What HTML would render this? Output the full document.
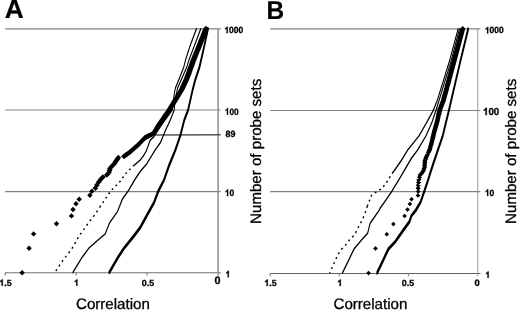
<!DOCTYPE html>
<html><head><meta charset="utf-8"><title>Correlation vs number of probe sets</title>
<style>
html,body{margin:0;padding:0;background:#fff;}
body{width:520px;height:311px;overflow:hidden;font-family:"Liberation Sans",sans-serif;}
svg{display:block;text-rendering:geometricPrecision;will-change:transform;transform:translateZ(0);font-family:"Liberation Sans",sans-serif;fill:#000;}
</style></head>
<body>
<svg width="520" height="311" viewBox="0 0 520 311">
<rect width="520" height="311" fill="#fff"/>
<line x1="5.1" y1="28.85" x2="220.79999999999998" y2="28.85" stroke="#808080" stroke-width="1.05"/>
<line x1="5.1" y1="109.95" x2="220.79999999999998" y2="109.95" stroke="#808080" stroke-width="1.05"/>
<line x1="5.1" y1="191.6" x2="220.79999999999998" y2="191.6" stroke="#808080" stroke-width="1.05"/>
<line x1="4.9" y1="272.8" x2="220.79999999999998" y2="272.8" stroke="#707070" stroke-width="1.1"/>
<line x1="218.1" y1="28.35" x2="218.1" y2="275.40000000000003" stroke="#8e8e8e" stroke-width="1.5"/>
<line x1="5.2" y1="272.8" x2="5.2" y2="275.5" stroke="#808080" stroke-width="1.1"/>
<line x1="76.1" y1="272.8" x2="76.1" y2="275.5" stroke="#808080" stroke-width="1.1"/>
<line x1="147.0" y1="272.8" x2="147.0" y2="275.5" stroke="#808080" stroke-width="1.1"/>
<line x1="270.1" y1="28.85" x2="480.40000000000003" y2="28.85" stroke="#808080" stroke-width="1.05"/>
<line x1="270.1" y1="110.5" x2="480.40000000000003" y2="110.5" stroke="#808080" stroke-width="1.05"/>
<line x1="270.1" y1="191.6" x2="480.40000000000003" y2="191.6" stroke="#808080" stroke-width="1.05"/>
<line x1="269.9" y1="273.45" x2="480.40000000000003" y2="273.45" stroke="#606060" stroke-width="1.1"/>
<line x1="477.75" y1="28.35" x2="477.75" y2="276.05" stroke="#9a9a9a" stroke-width="1.0"/>
<line x1="270.2" y1="273.45" x2="270.2" y2="276.15" stroke="#808080" stroke-width="1.1"/>
<line x1="339.3" y1="273.45" x2="339.3" y2="276.15" stroke="#808080" stroke-width="1.1"/>
<line x1="408.4" y1="273.45" x2="408.4" y2="276.15" stroke="#808080" stroke-width="1.1"/>
<line x1="155" y1="134.9" x2="220.6" y2="134.8" stroke="#555" stroke-width="1.5"/>
<path fill="#000" fill-rule="nonzero" d="M189.57 45.40L196.07 28.00L196.93 28.00L196.93 29.20L190.43 46.60L189.57 46.60zM185.07 59.40L189.57 45.40L190.43 45.40L190.43 46.60L185.93 60.60L185.07 60.60zM183.38 66.40L185.07 59.40L185.93 59.40L185.93 60.60L184.23 67.60L183.38 67.60zM179.07 77.40L183.38 66.40L184.23 66.40L184.23 67.60L179.93 78.60L179.07 78.60zM174.97 87.40L179.07 77.40L179.93 77.40L179.93 78.60L175.83 88.60L174.97 88.60zM173.47 95.40L174.97 87.40L175.83 87.40L175.83 88.60L174.33 96.60L173.47 96.60zM172.57 103.40L173.47 95.40L174.33 95.40L174.33 96.60L173.43 104.60L172.57 104.60zM171.88 109.40L172.57 103.40L173.43 103.40L173.43 104.60L172.73 110.60L171.88 110.60zM164.57 119.40L171.88 109.40L172.73 109.40L172.73 110.60L165.43 120.60L164.57 120.60zM157.57 129.40L164.57 119.40L165.43 119.40L165.43 120.60L158.43 130.60L157.57 130.60zM153.27 136.40L157.57 129.40L158.43 129.40L158.43 130.60L154.12 137.60L153.27 137.60zM149.77 139.50L153.27 136.40L154.12 136.40L154.12 137.60L150.62 140.70L149.77 140.70zM145.88 150.40L149.77 139.50L150.62 139.50L150.62 140.70L146.73 151.60L145.88 151.60zM142.88 155.40L145.88 150.40L146.73 150.40L146.73 151.60L143.73 156.60L142.88 156.60zM139.88 159.40L142.88 155.40L143.73 155.40L143.73 156.60L140.73 160.60L139.88 160.60zM134.02 164.40L139.88 159.40L140.73 159.40L140.73 160.60L134.87 165.60L134.02 165.60z"/>
<polyline points="134.4,165.0 132.8,166.4 125.2,174.0 120.5,181.0 110.3,191.4 103.3,202.0 100.6,206.0" fill="none" stroke="#000" stroke-width="1.4" stroke-dasharray="1.9 3.4"/>
<polyline points="100.6,206.0 95.4,213.9 87.8,223.9 80.4,234.1 77.2,239.3 72.0,248.6 62.7,260.6 54.7,272.6" fill="none" stroke="#000" stroke-width="1.4" stroke-dasharray="2 3.5"/>
<path fill="#000" fill-rule="nonzero" d="M193.88 45.40L200.38 28.00L201.23 28.00L201.23 29.20L194.73 46.60L193.88 46.60zM188.47 59.40L193.88 45.40L194.73 45.40L194.73 46.60L189.33 60.60L188.47 60.60zM186.38 66.40L188.47 59.40L189.33 59.40L189.33 60.60L187.23 67.60L186.38 67.60zM181.57 77.40L186.38 66.40L187.23 66.40L187.23 67.60L182.43 78.60L181.57 78.60zM177.17 87.40L181.57 77.40L182.43 77.40L182.43 78.60L178.03 88.60L177.17 88.60zM175.47 95.40L177.17 87.40L178.03 87.40L178.03 88.60L176.33 96.60L175.47 96.60zM174.38 103.40L175.47 95.40L176.33 95.40L176.33 96.60L175.23 104.60L174.38 104.60zM173.77 109.40L174.38 103.40L175.23 103.40L175.23 104.60L174.62 110.60L173.77 110.60zM169.88 119.40L173.77 109.40L174.62 109.40L174.62 110.60L170.73 120.60L169.88 120.60zM168.07 123.40L169.88 119.40L170.73 119.40L170.73 120.60L168.93 124.60L168.07 124.60zM164.77 130.40L168.07 123.40L168.93 123.40L168.93 124.60L165.62 131.60L164.77 131.60zM163.17 134.40L164.77 130.40L165.62 130.40L165.62 131.60L164.03 135.60L163.17 135.60zM159.97 142.00L163.17 134.40L164.03 134.40L164.03 135.60L160.83 143.20L159.97 143.20zM154.07 150.40L159.97 142.00L160.83 142.00L160.83 143.20L154.93 151.60L154.07 151.60zM151.07 155.40L154.07 150.40L154.93 150.40L154.93 151.60L151.93 156.60L151.07 156.60zM146.17 163.40L151.07 155.40L151.93 155.40L151.93 156.60L147.03 164.60L146.17 164.60zM139.88 170.80L146.17 163.40L147.03 163.40L147.03 164.60L140.73 172.00L139.88 172.00zM134.07 179.60L139.88 170.80L140.73 170.80L140.73 172.00L134.93 180.80L134.07 180.80zM128.07 189.90L134.07 179.60L134.93 179.60L134.93 180.80L128.93 191.10L128.07 191.10zM122.08 198.20L128.07 189.90L128.93 189.90L128.93 191.10L122.92 199.40L122.08 199.40zM117.08 210.90L122.08 198.20L122.92 198.20L122.92 199.40L117.92 212.10L117.08 212.10zM109.08 222.40L117.08 210.90L117.92 210.90L117.92 212.10L109.92 223.60L109.08 223.60zM104.78 233.40L109.08 222.40L109.92 222.40L109.92 223.60L105.62 234.60L104.78 234.60zM97.58 239.40L104.78 233.40L105.62 233.40L105.62 234.60L98.42 240.60L97.58 240.60zM88.58 247.40L97.58 239.40L98.42 239.40L98.42 240.60L89.42 248.60L88.58 248.60zM81.17 257.40L88.58 247.40L89.42 247.40L89.42 248.60L82.02 258.60L81.17 258.60zM72.38 272.00L81.17 257.40L82.02 257.40L82.02 258.60L73.22 273.20L72.38 273.20z"/>
<path fill="#000" fill-rule="nonzero" d="M203.62 44.65L207.32 27.25L208.68 27.25L208.68 29.95L204.98 47.35L203.62 47.35zM198.82 65.65L203.62 44.65L204.98 44.65L204.98 47.35L200.18 68.35L198.82 68.35zM194.52 78.65L198.82 65.65L200.18 65.65L200.18 68.35L195.88 81.35L194.52 81.35zM191.92 88.65L194.52 78.65L195.88 78.65L195.88 81.35L193.28 91.35L191.92 91.35zM187.42 108.65L191.92 88.65L193.28 88.65L193.28 91.35L188.78 111.35L187.42 111.35zM183.62 118.65L187.42 108.65L188.78 108.65L188.78 111.35L184.98 121.35L183.62 121.35zM179.82 133.65L183.62 118.65L184.98 118.65L184.98 121.35L181.18 136.35L179.82 136.35zM174.72 148.65L179.82 133.65L181.18 133.65L181.18 136.35L176.08 151.35L174.72 151.35zM168.52 163.85L174.72 148.65L176.08 148.65L176.08 151.35L169.88 166.55L168.52 166.55zM163.32 178.65L168.52 163.85L169.88 163.85L169.88 166.55L164.68 181.35L163.32 181.35zM157.52 189.95L163.32 178.65L164.68 178.65L164.68 181.35L158.88 192.65L157.52 192.65zM153.32 201.25L157.52 189.95L158.88 189.95L158.88 192.65L154.68 203.95L153.32 203.95zM147.02 212.55L153.32 201.25L154.68 201.25L154.68 203.95L148.38 215.25L147.02 215.25zM139.52 226.35L147.02 212.55L148.38 212.55L148.38 215.25L140.88 229.05L139.52 229.05zM131.92 236.35L139.52 226.35L140.88 226.35L140.88 229.05L133.28 239.05L131.92 239.05zM123.12 247.15L131.92 236.35L133.28 236.35L133.28 239.05L124.47 249.85L123.12 249.85zM116.92 256.65L123.12 247.15L124.47 247.15L124.47 249.85L118.27 259.35L116.92 259.35zM108.53 271.25L116.92 256.65L118.27 256.65L118.27 259.35L109.88 273.95L108.53 273.95z"/>
<path fill="#000" d="M203.0 28.8l3.0 -3.0 3.0 3.0 -3.0 3.0zM202.8 29.3l3.0 -3.0 3.0 3.0 -3.0 3.0zM202.6 29.7l3.0 -3.0 3.0 3.0 -3.0 3.0zM202.4 30.2l3.0 -3.0 3.0 3.0 -3.0 3.0zM202.3 30.7l3.0 -3.0 3.0 3.0 -3.0 3.0zM202.1 31.2l3.0 -3.0 3.0 3.0 -3.0 3.0zM201.9 31.6l3.0 -3.0 3.0 3.0 -3.0 3.0zM201.7 32.1l3.0 -3.0 3.0 3.0 -3.0 3.0zM201.5 32.6l3.0 -3.0 3.0 3.0 -3.0 3.0zM201.3 33.0l3.0 -3.0 3.0 3.0 -3.0 3.0zM201.1 33.5l3.0 -3.0 3.0 3.0 -3.0 3.0zM200.9 34.0l3.0 -3.0 3.0 3.0 -3.0 3.0zM200.8 34.5l3.0 -3.0 3.0 3.0 -3.0 3.0zM200.6 34.9l3.0 -3.0 3.0 3.0 -3.0 3.0zM200.4 35.4l3.0 -3.0 3.0 3.0 -3.0 3.0zM200.2 35.9l3.0 -3.0 3.0 3.0 -3.0 3.0zM200.0 36.3l3.0 -3.0 3.0 3.0 -3.0 3.0zM199.8 36.8l3.0 -3.0 3.0 3.0 -3.0 3.0zM199.6 37.3l3.0 -3.0 3.0 3.0 -3.0 3.0zM199.5 37.8l3.0 -3.0 3.0 3.0 -3.0 3.0zM199.3 38.2l3.0 -3.0 3.0 3.0 -3.0 3.0zM199.1 38.7l3.0 -3.0 3.0 3.0 -3.0 3.0zM198.9 39.1l3.0 -3.0 3.0 3.0 -3.0 3.0zM198.7 39.6l3.0 -3.0 3.0 3.0 -3.0 3.0zM198.5 40.1l3.0 -3.0 3.0 3.0 -3.0 3.0zM198.3 40.6l3.0 -3.0 3.0 3.0 -3.0 3.0zM198.1 41.1l3.0 -3.0 3.0 3.0 -3.0 3.0zM198.0 41.5l3.0 -3.0 3.0 3.0 -3.0 3.0zM197.8 42.0l3.0 -3.0 3.0 3.0 -3.0 3.0zM197.6 42.5l3.0 -3.0 3.0 3.0 -3.0 3.0zM197.4 42.9l3.0 -3.0 3.0 3.0 -3.0 3.0zM197.2 43.4l3.0 -3.0 3.0 3.0 -3.0 3.0zM197.0 43.9l3.0 -3.0 3.0 3.0 -3.0 3.0zM196.8 44.4l3.0 -3.0 3.0 3.0 -3.0 3.0zM196.6 44.9l3.0 -3.0 3.0 3.0 -3.0 3.0zM196.4 45.4l3.0 -3.0 3.0 3.0 -3.0 3.0zM196.3 45.8l3.0 -3.0 3.0 3.0 -3.0 3.0zM196.1 46.3l3.0 -3.0 3.0 3.0 -3.0 3.0zM195.9 46.8l3.0 -3.0 3.0 3.0 -3.0 3.0zM195.7 47.3l3.0 -3.0 3.0 3.0 -3.0 3.0zM195.5 47.7l3.0 -3.0 3.0 3.0 -3.0 3.0zM195.3 48.2l3.0 -3.0 3.0 3.0 -3.0 3.0zM195.1 48.7l3.0 -3.0 3.0 3.0 -3.0 3.0zM194.9 49.2l3.0 -3.0 3.0 3.0 -3.0 3.0zM194.7 49.7l3.0 -3.0 3.0 3.0 -3.0 3.0zM194.5 50.2l3.0 -3.0 3.0 3.0 -3.0 3.0zM194.3 50.7l3.0 -3.0 3.0 3.0 -3.0 3.0zM194.1 51.1l3.0 -3.0 3.0 3.0 -3.0 3.0zM193.9 51.6l3.0 -3.0 3.0 3.0 -3.0 3.0zM193.7 52.1l3.0 -3.0 3.0 3.0 -3.0 3.0zM193.5 52.6l3.0 -3.0 3.0 3.0 -3.0 3.0zM193.3 53.1l3.0 -3.0 3.0 3.0 -3.0 3.0zM193.1 53.6l3.0 -3.0 3.0 3.0 -3.0 3.0zM192.9 54.1l3.0 -3.0 3.0 3.0 -3.0 3.0zM192.7 54.6l3.0 -3.0 3.0 3.0 -3.0 3.0zM192.5 55.1l3.0 -3.0 3.0 3.0 -3.0 3.0zM192.3 55.6l3.0 -3.0 3.0 3.0 -3.0 3.0zM192.1 56.1l3.0 -3.0 3.0 3.0 -3.0 3.0zM191.9 56.5l3.0 -3.0 3.0 3.0 -3.0 3.0zM191.7 57.0l3.0 -3.0 3.0 3.0 -3.0 3.0zM191.5 57.5l3.0 -3.0 3.0 3.0 -3.0 3.0zM191.3 57.9l3.0 -3.0 3.0 3.0 -3.0 3.0zM191.1 58.4l3.0 -3.0 3.0 3.0 -3.0 3.0zM190.9 58.9l3.0 -3.0 3.0 3.0 -3.0 3.0zM190.7 59.4l3.0 -3.0 3.0 3.0 -3.0 3.0zM190.5 59.9l3.0 -3.0 3.0 3.0 -3.0 3.0zM190.3 60.5l3.0 -3.0 3.0 3.0 -3.0 3.0zM190.1 61.0l3.0 -3.0 3.0 3.0 -3.0 3.0zM190.0 61.5l3.0 -3.0 3.0 3.0 -3.0 3.0zM189.8 62.0l3.0 -3.0 3.0 3.0 -3.0 3.0zM189.6 62.5l3.0 -3.0 3.0 3.0 -3.0 3.0zM189.4 63.0l3.0 -3.0 3.0 3.0 -3.0 3.0zM189.3 63.4l3.0 -3.0 3.0 3.0 -3.0 3.0zM189.1 63.9l3.0 -3.0 3.0 3.0 -3.0 3.0zM188.9 64.4l3.0 -3.0 3.0 3.0 -3.0 3.0zM188.7 64.9l3.0 -3.0 3.0 3.0 -3.0 3.0zM188.6 65.4l3.0 -3.0 3.0 3.0 -3.0 3.0zM188.4 65.9l3.0 -3.0 3.0 3.0 -3.0 3.0zM188.2 66.4l3.0 -3.0 3.0 3.0 -3.0 3.0zM188.0 66.9l3.0 -3.0 3.0 3.0 -3.0 3.0zM187.8 67.4l3.0 -3.0 3.0 3.0 -3.0 3.0zM187.6 67.9l3.0 -3.0 3.0 3.0 -3.0 3.0zM187.4 68.5l3.0 -3.0 3.0 3.0 -3.0 3.0zM187.2 69.0l3.0 -3.0 3.0 3.0 -3.0 3.0zM187.0 69.6l3.0 -3.0 3.0 3.0 -3.0 3.0zM186.9 70.0l3.0 -3.0 3.0 3.0 -3.0 3.0zM186.7 70.5l3.0 -3.0 3.0 3.0 -3.0 3.0zM186.5 71.0l3.0 -3.0 3.0 3.0 -3.0 3.0zM186.4 71.4l3.0 -3.0 3.0 3.0 -3.0 3.0zM186.2 71.9l3.0 -3.0 3.0 3.0 -3.0 3.0zM186.0 72.4l3.0 -3.0 3.0 3.0 -3.0 3.0zM185.9 72.9l3.0 -3.0 3.0 3.0 -3.0 3.0zM185.7 73.4l3.0 -3.0 3.0 3.0 -3.0 3.0zM185.5 73.9l3.0 -3.0 3.0 3.0 -3.0 3.0zM185.3 74.4l3.0 -3.0 3.0 3.0 -3.0 3.0zM185.1 74.9l3.0 -3.0 3.0 3.0 -3.0 3.0zM184.9 75.4l3.0 -3.0 3.0 3.0 -3.0 3.0zM184.7 76.0l3.0 -3.0 3.0 3.0 -3.0 3.0zM184.5 76.5l3.0 -3.0 3.0 3.0 -3.0 3.0zM184.3 77.0l3.0 -3.0 3.0 3.0 -3.0 3.0zM184.1 77.6l3.0 -3.0 3.0 3.0 -3.0 3.0zM183.9 78.2l3.0 -3.0 3.0 3.0 -3.0 3.0zM183.7 78.8l3.0 -3.0 3.0 3.0 -3.0 3.0zM183.4 79.3l3.0 -3.0 3.0 3.0 -3.0 3.0zM183.1 79.9l3.0 -3.0 3.0 3.0 -3.0 3.0zM182.9 80.4l3.0 -3.0 3.0 3.0 -3.0 3.0zM182.7 80.8l3.0 -3.0 3.0 3.0 -3.0 3.0zM182.5 81.3l3.0 -3.0 3.0 3.0 -3.0 3.0zM182.3 81.8l3.0 -3.0 3.0 3.0 -3.0 3.0zM182.0 82.3l3.0 -3.0 3.0 3.0 -3.0 3.0zM181.8 82.7l3.0 -3.0 3.0 3.0 -3.0 3.0zM181.6 83.2l3.0 -3.0 3.0 3.0 -3.0 3.0zM181.4 83.7l3.0 -3.0 3.0 3.0 -3.0 3.0zM181.1 84.2l3.0 -3.0 3.0 3.0 -3.0 3.0zM180.9 84.8l3.0 -3.0 3.0 3.0 -3.0 3.0zM180.7 85.3l3.0 -3.0 3.0 3.0 -3.0 3.0zM180.4 85.8l3.0 -3.0 3.0 3.0 -3.0 3.0zM180.2 86.3l3.0 -3.0 3.0 3.0 -3.0 3.0zM179.9 86.9l3.0 -3.0 3.0 3.0 -3.0 3.0zM179.7 87.4l3.0 -3.0 3.0 3.0 -3.0 3.0zM179.4 88.0l3.0 -3.0 3.0 3.0 -3.0 3.0zM179.2 88.6l3.0 -3.0 3.0 3.0 -3.0 3.0zM178.9 89.2l3.0 -3.0 3.0 3.0 -3.0 3.0zM178.6 89.7l3.0 -3.0 3.0 3.0 -3.0 3.0zM178.3 90.3l3.0 -3.0 3.0 3.0 -3.0 3.0zM177.9 91.0l3.0 -3.0 3.0 3.0 -3.0 3.0zM177.5 91.6l3.0 -3.0 3.0 3.0 -3.0 3.0zM177.1 92.2l3.0 -3.0 3.0 3.0 -3.0 3.0zM176.7 92.8l3.0 -3.0 3.0 3.0 -3.0 3.0zM176.3 93.5l3.0 -3.0 3.0 3.0 -3.0 3.0zM175.9 94.2l3.0 -3.0 3.0 3.0 -3.0 3.0zM175.7 94.6l3.0 -3.0 3.0 3.0 -3.0 3.0zM175.4 95.1l3.0 -3.0 3.0 3.0 -3.0 3.0zM175.1 95.5l3.0 -3.0 3.0 3.0 -3.0 3.0zM174.8 96.0l3.0 -3.0 3.0 3.0 -3.0 3.0zM174.5 96.5l3.0 -3.0 3.0 3.0 -3.0 3.0zM174.2 97.0l3.0 -3.0 3.0 3.0 -3.0 3.0zM173.9 97.5l3.0 -3.0 3.0 3.0 -3.0 3.0zM173.6 98.0l3.0 -3.0 3.0 3.0 -3.0 3.0zM173.3 98.5l3.0 -3.0 3.0 3.0 -3.0 3.0zM173.0 99.0l3.0 -3.0 3.0 3.0 -3.0 3.0zM172.7 99.5l3.0 -3.0 3.0 3.0 -3.0 3.0zM172.3 100.0l3.0 -3.0 3.0 3.0 -3.0 3.0zM172.0 100.6l3.0 -3.0 3.0 3.0 -3.0 3.0zM171.7 101.1l3.0 -3.0 3.0 3.0 -3.0 3.0zM171.3 101.7l3.0 -3.0 3.0 3.0 -3.0 3.0zM171.0 102.2l3.0 -3.0 3.0 3.0 -3.0 3.0zM170.6 102.8l3.0 -3.0 3.0 3.0 -3.0 3.0zM170.3 103.4l3.0 -3.0 3.0 3.0 -3.0 3.0zM169.9 104.0l3.0 -3.0 3.0 3.0 -3.0 3.0zM169.5 104.6l3.0 -3.0 3.0 3.0 -3.0 3.0zM169.2 105.2l3.0 -3.0 3.0 3.0 -3.0 3.0zM168.8 105.8l3.0 -3.0 3.0 3.0 -3.0 3.0zM168.4 106.4l3.0 -3.0 3.0 3.0 -3.0 3.0zM168.0 107.1l3.0 -3.0 3.0 3.0 -3.0 3.0zM167.6 107.7l3.0 -3.0 3.0 3.0 -3.0 3.0zM167.2 108.4l3.0 -3.0 3.0 3.0 -3.0 3.0zM166.8 109.1l3.0 -3.0 3.0 3.0 -3.0 3.0zM166.4 109.7l3.0 -3.0 3.0 3.0 -3.0 3.0zM165.9 110.5l3.0 -3.0 3.0 3.0 -3.0 3.0zM165.4 111.2l3.0 -3.0 3.0 3.0 -3.0 3.0zM164.9 111.9l3.0 -3.0 3.0 3.0 -3.0 3.0zM164.3 112.7l3.0 -3.0 3.0 3.0 -3.0 3.0zM163.8 113.4l3.0 -3.0 3.0 3.0 -3.0 3.0zM163.2 114.2l3.0 -3.0 3.0 3.0 -3.0 3.0zM162.7 115.0l3.0 -3.0 3.0 3.0 -3.0 3.0zM162.1 115.8l3.0 -3.0 3.0 3.0 -3.0 3.0zM161.5 116.7l3.0 -3.0 3.0 3.0 -3.0 3.0zM160.9 117.5l3.0 -3.0 3.0 3.0 -3.0 3.0zM160.4 118.4l2.9 -2.9 2.9 2.9 -2.9 2.9zM159.8 119.3l2.9 -2.9 2.9 2.9 -2.9 2.9zM159.4 119.8l2.9 -2.9 2.9 2.9 -2.9 2.9zM159.1 120.3l2.9 -2.9 2.9 2.9 -2.9 2.9zM158.8 120.7l2.9 -2.9 2.9 2.9 -2.9 2.9zM158.4 121.2l2.9 -2.9 2.9 2.9 -2.9 2.9zM158.1 121.7l2.9 -2.9 2.9 2.9 -2.9 2.9zM157.7 122.2l2.9 -2.9 2.9 2.9 -2.9 2.9zM157.4 122.7l2.9 -2.9 2.9 2.9 -2.9 2.9zM157.0 123.2l2.9 -2.9 2.9 2.9 -2.9 2.9zM156.6 123.7l2.9 -2.9 2.9 2.9 -2.9 2.9zM156.3 124.2l2.9 -2.9 2.9 2.9 -2.9 2.9zM156.0 124.8l2.9 -2.9 2.9 2.9 -2.9 2.9zM155.7 125.3l2.9 -2.9 2.9 2.9 -2.9 2.9zM155.3 125.9l2.9 -2.9 2.9 2.9 -2.9 2.9zM155.0 126.4l2.9 -2.9 2.9 2.9 -2.9 2.9zM154.7 127.0l2.9 -2.9 2.9 2.9 -2.9 2.9zM154.4 127.6l2.9 -2.9 2.9 2.9 -2.9 2.9zM154.0 128.1l2.9 -2.9 2.9 2.9 -2.9 2.9zM153.7 128.7l2.9 -2.9 2.9 2.9 -2.9 2.9zM153.4 129.3l2.9 -2.9 2.9 2.9 -2.9 2.9zM153.0 129.9l2.9 -2.9 2.9 2.9 -2.9 2.9zM152.5 130.6l2.9 -2.9 2.9 2.9 -2.9 2.9zM152.1 131.2l2.9 -2.9 2.9 2.9 -2.9 2.9zM151.6 131.9l2.9 -2.9 2.9 2.9 -2.9 2.9zM151.1 132.5l2.9 -2.9 2.9 2.9 -2.9 2.9zM150.6 133.2l2.9 -2.9 2.9 2.9 -2.9 2.9zM149.7 133.9l2.9 -2.9 2.9 2.9 -2.9 2.9zM148.3 134.6l2.9 -2.9 2.9 2.9 -2.9 2.9zM146.8 135.3l2.9 -2.9 2.9 2.9 -2.9 2.9zM145.4 136.0l2.9 -2.9 2.9 2.9 -2.9 2.9zM143.9 136.8l2.9 -2.9 2.9 2.9 -2.9 2.9zM142.4 137.5l2.9 -2.9 2.9 2.9 -2.9 2.9zM141.5 138.3l2.9 -2.9 2.9 2.9 -2.9 2.9zM140.8 139.1l2.9 -2.9 2.9 2.9 -2.9 2.9zM140.0 139.9l2.9 -2.9 2.9 2.9 -2.9 2.9zM139.2 140.7l2.9 -2.9 2.9 2.9 -2.9 2.9zM138.4 141.6l2.9 -2.9 2.9 2.9 -2.9 2.9zM137.5 142.5l2.9 -2.9 2.9 2.9 -2.9 2.9zM136.7 143.3l2.9 -2.9 2.9 2.9 -2.9 2.9zM135.8 144.3l2.9 -2.9 2.9 2.9 -2.9 2.9zM134.9 145.2l2.9 -2.9 2.9 2.9 -2.9 2.9zM133.8 146.2l2.9 -2.9 2.9 2.9 -2.9 2.9zM132.6 147.2l2.9 -2.9 2.9 2.9 -2.9 2.9zM131.5 148.2l2.9 -2.9 2.9 2.9 -2.9 2.9zM130.3 149.2l2.9 -2.9 2.9 2.9 -2.9 2.9zM129.0 150.3l2.9 -2.9 2.9 2.9 -2.9 2.9zM127.7 151.5l2.9 -2.9 2.9 2.9 -2.9 2.9zM126.3 152.6l2.9 -2.9 2.9 2.9 -2.9 2.9zM124.6 153.8l2.9 -2.9 2.9 2.9 -2.9 2.9zM122.9 155.0l2.9 -2.9 2.9 2.9 -2.9 2.9zM121.1 156.3l2.9 -2.9 2.9 2.9 -2.9 2.9zM115.4 157.7l2.9 -2.9 2.9 2.9 -2.9 2.9zM114.5 159.0l2.9 -2.9 2.9 2.9 -2.9 2.9zM113.5 160.5l2.9 -2.9 2.9 2.9 -2.9 2.9zM112.5 162.0l2.9 -2.9 2.9 2.9 -2.9 2.9zM111.5 163.6l2.9 -2.9 2.9 2.9 -2.9 2.9zM110.0 165.2l2.9 -2.9 2.9 2.9 -2.9 2.9zM108.3 166.9l2.9 -2.9 2.9 2.9 -2.9 2.9zM107.0 168.7l2.9 -2.9 2.9 2.9 -2.9 2.9zM106.7 170.6l2.9 -2.9 2.9 2.9 -2.9 2.9zM105.9 172.7l2.9 -2.9 2.9 2.9 -2.9 2.9zM104.0 174.8l2.9 -2.9 2.9 2.9 -2.9 2.9zM100.0 177.1l2.9 -2.9 2.9 2.9 -2.9 2.9zM97.7 179.5l2.9 -2.9 2.9 2.9 -2.9 2.9zM95.8 182.1l2.9 -2.9 2.9 2.9 -2.9 2.9zM94.1 185.0l2.9 -2.9 2.9 2.9 -2.9 2.9zM92.6 188.0l2.9 -2.9 2.9 2.9 -2.9 2.9zM89.2 191.3l2.7 -2.7 2.7 2.7 -2.7 2.7zM87.2 195.2l2.7 -2.7 2.7 2.7 -2.7 2.7zM76.5 199.3l2.7 -2.7 2.7 2.7 -2.7 2.7zM73.3 203.8l2.7 -2.7 2.7 2.7 -2.7 2.7zM70.3 209.5l2.7 -2.7 2.7 2.7 -2.7 2.7zM68.8 215.9l2.7 -2.7 2.7 2.7 -2.7 2.7zM53.8 223.8l2.7 -2.7 2.7 2.7 -2.7 2.7zM30.9 233.9l2.7 -2.7 2.7 2.7 -2.7 2.7zM26.4 248.2l2.7 -2.7 2.7 2.7 -2.7 2.7zM19.4 272.7l2.7 -2.7 2.7 2.7 -2.7 2.7z"/>
<path fill="#000" fill-rule="nonzero" d="M449.07 60.40L457.68 28.20L458.53 28.20L458.53 29.40L449.93 61.60L449.07 61.60zM436.97 99.40L449.07 60.40L449.93 60.40L449.93 61.60L437.82 100.60L436.97 100.60zM432.97 109.60L436.97 99.40L437.82 99.40L437.82 100.60L433.82 110.80L432.97 110.80zM425.97 122.40L432.97 109.60L433.82 109.60L433.82 110.80L426.82 123.60L425.97 123.60zM418.47 135.40L425.97 122.40L426.82 122.40L426.82 123.60L419.32 136.60L418.47 136.60zM407.27 149.40L418.47 135.40L419.32 135.40L419.32 136.60L408.12 150.60L407.27 150.60zM400.97 159.80L407.27 149.40L408.12 149.40L408.12 150.60L401.82 161.00L400.97 161.00zM394.57 169.10L400.97 159.80L401.82 159.80L401.82 161.00L395.43 170.30L394.57 170.30zM392.77 171.40L394.57 169.10L395.43 169.10L395.43 170.30L393.62 172.60L392.77 172.60z"/>
<polyline points="393.2,172.0 392.8,172.5 385.8,183.5 381.7,188.7 376.5,191.8 371.4,195.5 367.7,205.2 367.4,206.0" fill="none" stroke="#000" stroke-width="1.4" stroke-dasharray="1.9 3.4"/>
<polyline points="367.4,206.0 366.0,210.6 363.1,218.1 359.6,225.1 356.7,230.3 355.0,234.3 349.3,240.0 345.3,245.4 340.5,250.1 337.8,254.9 334.5,262.3 329.7,273.1" fill="none" stroke="#000" stroke-width="1.4" stroke-dasharray="2 3.5"/>
<path fill="#000" fill-rule="nonzero" d="M450.68 60.40L459.07 28.20L459.93 28.20L459.93 29.40L451.53 61.60L450.68 61.60zM438.77 99.40L450.68 60.40L451.53 60.40L451.53 61.60L439.62 100.60L438.77 100.60zM435.57 109.60L438.77 99.40L439.62 99.40L439.62 100.60L436.43 110.80L435.57 110.80zM431.27 122.40L435.57 109.60L436.43 109.60L436.43 110.80L432.12 123.60L431.27 123.60zM425.47 135.40L431.27 122.40L432.12 122.40L432.12 123.60L426.32 136.60L425.47 136.60zM417.18 149.40L425.47 135.40L426.32 135.40L426.32 136.60L418.03 150.60L417.18 150.60zM410.77 158.10L417.18 149.40L418.03 149.40L418.03 150.60L411.62 159.30L410.77 159.30zM404.38 169.10L410.77 158.10L411.62 158.10L411.62 159.30L405.23 170.30L404.38 170.30zM398.88 178.40L404.38 169.10L405.23 169.10L405.23 170.30L399.73 179.60L398.88 179.60zM391.18 191.00L398.88 178.40L399.73 178.40L399.73 179.60L392.03 192.20L391.18 192.20zM386.57 197.90L391.18 191.00L392.03 191.00L392.03 192.20L387.43 199.10L386.57 199.10zM379.57 207.80L386.57 197.90L387.43 197.90L387.43 199.10L380.43 209.00L379.57 209.00zM378.88 209.40L379.57 207.80L380.43 207.80L380.43 209.00L379.73 210.60L378.88 210.60zM369.68 222.70L378.88 209.40L379.73 209.40L379.73 210.60L370.53 223.90L369.68 223.90zM367.27 232.60L369.68 222.70L370.53 222.70L370.53 223.90L368.12 233.80L367.27 233.80zM361.07 239.40L367.27 232.60L368.12 232.60L368.12 233.80L361.93 240.60L361.07 240.60zM353.68 248.20L361.07 239.40L361.93 239.40L361.93 240.60L354.53 249.40L353.68 249.40zM347.57 261.00L353.68 248.20L354.53 248.20L354.53 249.40L348.43 262.20L347.57 262.20zM341.88 272.50L347.57 261.00L348.43 261.00L348.43 262.20L342.73 273.70L341.88 273.70z"/>
<path fill="#000" fill-rule="nonzero" d="M459.72 59.65L467.52 27.45L468.88 27.45L468.88 30.15L461.07 62.35L459.72 62.35zM450.62 98.65L459.72 59.65L461.07 59.65L461.07 62.35L451.98 101.35L450.62 101.35zM448.32 108.85L450.62 98.65L451.98 98.65L451.98 101.35L449.68 111.55L448.32 111.55zM445.12 121.65L448.32 108.85L449.68 108.85L449.68 111.55L446.48 124.35L445.12 124.35zM442.02 134.65L445.12 121.65L446.48 121.65L446.48 124.35L443.38 137.35L442.02 137.35zM437.22 148.65L442.02 134.65L443.38 134.65L443.38 137.35L438.57 151.35L437.22 151.35zM432.52 162.55L437.22 148.65L438.57 148.65L438.57 151.35L433.88 165.25L432.52 165.25zM429.12 172.95L432.52 162.55L433.88 162.55L433.88 165.25L430.48 175.65L429.12 175.65zM427.43 178.65L429.12 172.95L430.48 172.95L430.48 175.65L428.78 181.35L427.43 181.35zM423.93 189.05L427.43 178.65L428.78 178.65L428.78 181.35L425.28 191.75L423.93 191.75zM419.93 200.65L423.93 189.05L425.28 189.05L425.28 191.75L421.28 203.35L419.93 203.35zM415.22 208.75L419.93 200.65L421.28 200.65L421.28 203.35L416.57 211.45L415.22 211.45zM410.62 214.65L415.22 208.75L416.57 208.75L416.57 211.45L411.98 217.35L410.62 217.35zM408.82 220.25L410.62 214.65L411.98 214.65L411.98 217.35L410.18 222.95L408.82 222.95zM403.02 228.35L408.82 220.25L410.18 220.25L410.18 222.95L404.38 231.05L403.02 231.05zM397.22 236.45L403.02 228.35L404.38 228.35L404.38 231.05L398.57 239.15L397.22 239.15zM394.32 240.65L397.22 236.45L398.57 236.45L398.57 239.15L395.68 243.35L394.32 243.35zM387.82 247.45L394.32 240.65L395.68 240.65L395.68 243.35L389.18 250.15L387.82 250.15zM382.43 258.95L387.82 247.45L389.18 247.45L389.18 250.15L383.78 261.65L382.43 261.65zM376.32 271.75L382.43 258.95L383.78 258.95L383.78 261.65L377.68 274.45L376.32 274.45z"/>
<path fill="#000" d="M460.0 28.8l2.7 -2.7 2.7 2.7 -2.7 2.7zM459.9 29.3l2.7 -2.7 2.7 2.7 -2.7 2.7zM459.7 29.7l2.7 -2.7 2.7 2.7 -2.7 2.7zM459.6 30.2l2.7 -2.7 2.7 2.7 -2.7 2.7zM459.5 30.7l2.7 -2.7 2.7 2.7 -2.7 2.7zM459.4 31.1l2.7 -2.7 2.7 2.7 -2.7 2.7zM459.3 31.6l2.7 -2.7 2.7 2.7 -2.7 2.7zM459.1 32.1l2.7 -2.7 2.7 2.7 -2.7 2.7zM459.0 32.5l2.7 -2.7 2.7 2.7 -2.7 2.7zM458.9 33.0l2.7 -2.7 2.7 2.7 -2.7 2.7zM458.7 33.5l2.7 -2.7 2.7 2.7 -2.7 2.7zM458.6 34.0l2.7 -2.7 2.7 2.7 -2.7 2.7zM458.5 34.4l2.7 -2.7 2.7 2.7 -2.7 2.7zM458.4 34.9l2.7 -2.7 2.7 2.7 -2.7 2.7zM458.2 35.4l2.7 -2.7 2.7 2.7 -2.7 2.7zM458.1 35.8l2.7 -2.7 2.7 2.7 -2.7 2.7zM458.0 36.3l2.7 -2.7 2.7 2.7 -2.7 2.7zM457.9 36.8l2.7 -2.7 2.7 2.7 -2.7 2.7zM457.7 37.3l2.7 -2.7 2.7 2.7 -2.7 2.7zM457.6 37.7l2.7 -2.7 2.7 2.7 -2.7 2.7zM457.5 38.2l2.7 -2.7 2.7 2.7 -2.7 2.7zM457.4 38.7l2.7 -2.7 2.7 2.7 -2.7 2.7zM457.2 39.1l2.7 -2.7 2.7 2.7 -2.7 2.7zM457.1 39.6l2.7 -2.7 2.7 2.7 -2.7 2.7zM457.0 40.1l2.7 -2.7 2.7 2.7 -2.7 2.7zM456.9 40.6l2.7 -2.7 2.7 2.7 -2.7 2.7zM456.7 41.1l2.7 -2.7 2.7 2.7 -2.7 2.7zM456.6 41.5l2.7 -2.7 2.7 2.7 -2.7 2.7zM456.5 42.0l2.7 -2.7 2.7 2.7 -2.7 2.7zM456.4 42.4l2.7 -2.7 2.7 2.7 -2.7 2.7zM456.2 42.9l2.7 -2.7 2.7 2.7 -2.7 2.7zM456.1 43.4l2.7 -2.7 2.7 2.7 -2.7 2.7zM456.0 43.9l2.7 -2.7 2.7 2.7 -2.7 2.7zM455.8 44.4l2.7 -2.7 2.7 2.7 -2.7 2.7zM455.7 44.9l2.7 -2.7 2.7 2.7 -2.7 2.7zM455.6 45.4l2.7 -2.7 2.7 2.7 -2.7 2.7zM455.5 45.8l2.7 -2.7 2.7 2.7 -2.7 2.7zM455.3 46.3l2.7 -2.7 2.7 2.7 -2.7 2.7zM455.2 46.8l2.7 -2.7 2.7 2.7 -2.7 2.7zM455.1 47.2l2.7 -2.7 2.7 2.7 -2.7 2.7zM454.9 47.7l2.7 -2.7 2.7 2.7 -2.7 2.7zM454.8 48.2l2.7 -2.7 2.7 2.7 -2.7 2.7zM454.7 48.7l2.7 -2.7 2.7 2.7 -2.7 2.7zM454.6 49.2l2.7 -2.7 2.7 2.7 -2.7 2.7zM454.4 49.7l2.7 -2.7 2.7 2.7 -2.7 2.7zM454.3 50.2l2.7 -2.7 2.7 2.7 -2.7 2.7zM454.2 50.7l2.7 -2.7 2.7 2.7 -2.7 2.7zM454.0 51.1l2.7 -2.7 2.7 2.7 -2.7 2.7zM453.9 51.6l2.7 -2.7 2.7 2.7 -2.7 2.7zM453.8 52.1l2.7 -2.7 2.7 2.7 -2.7 2.7zM453.7 52.6l2.7 -2.7 2.7 2.7 -2.7 2.7zM453.5 53.0l2.7 -2.7 2.7 2.7 -2.7 2.7zM453.4 53.5l2.7 -2.7 2.7 2.7 -2.7 2.7zM453.3 54.0l2.7 -2.7 2.7 2.7 -2.7 2.7zM453.1 54.5l2.7 -2.7 2.7 2.7 -2.7 2.7zM453.0 55.1l2.7 -2.7 2.7 2.7 -2.7 2.7zM452.8 55.6l2.7 -2.7 2.7 2.7 -2.7 2.7zM452.7 56.0l2.7 -2.7 2.7 2.7 -2.7 2.7zM452.6 56.5l2.7 -2.7 2.7 2.7 -2.7 2.7zM452.5 57.0l2.7 -2.7 2.7 2.7 -2.7 2.7zM452.3 57.4l2.7 -2.7 2.7 2.7 -2.7 2.7zM452.2 57.9l2.7 -2.7 2.7 2.7 -2.7 2.7zM452.1 58.4l2.7 -2.7 2.7 2.7 -2.7 2.7zM452.0 58.9l2.7 -2.7 2.7 2.7 -2.7 2.7zM451.8 59.4l2.7 -2.7 2.7 2.7 -2.7 2.7zM451.7 59.9l2.7 -2.7 2.7 2.7 -2.7 2.7zM451.6 60.4l2.7 -2.7 2.7 2.7 -2.7 2.7zM451.4 61.0l2.7 -2.7 2.7 2.7 -2.7 2.7zM451.3 61.5l2.7 -2.7 2.7 2.7 -2.7 2.7zM451.1 62.0l2.7 -2.7 2.7 2.7 -2.7 2.7zM451.0 62.5l2.7 -2.7 2.7 2.7 -2.7 2.7zM450.9 62.9l2.7 -2.7 2.7 2.7 -2.7 2.7zM450.7 63.4l2.7 -2.7 2.7 2.7 -2.7 2.7zM450.6 63.9l2.7 -2.7 2.7 2.7 -2.7 2.7zM450.5 64.4l2.7 -2.7 2.7 2.7 -2.7 2.7zM450.4 64.8l2.7 -2.7 2.7 2.7 -2.7 2.7zM450.2 65.3l2.7 -2.7 2.7 2.7 -2.7 2.7zM450.1 65.8l2.7 -2.7 2.7 2.7 -2.7 2.7zM449.9 66.3l2.7 -2.7 2.7 2.7 -2.7 2.7zM449.8 66.9l2.7 -2.7 2.7 2.7 -2.7 2.7zM449.7 67.4l2.7 -2.7 2.7 2.7 -2.7 2.7zM449.5 67.9l2.7 -2.7 2.7 2.7 -2.7 2.7zM449.4 68.4l2.7 -2.7 2.7 2.7 -2.7 2.7zM449.2 69.0l2.7 -2.7 2.7 2.7 -2.7 2.7zM449.1 69.6l2.7 -2.7 2.7 2.7 -2.7 2.7zM448.9 70.0l2.7 -2.7 2.7 2.7 -2.7 2.7zM448.8 70.5l2.7 -2.7 2.7 2.7 -2.7 2.7zM448.7 70.9l2.7 -2.7 2.7 2.7 -2.7 2.7zM448.6 71.4l2.7 -2.7 2.7 2.7 -2.7 2.7zM448.4 71.9l2.7 -2.7 2.7 2.7 -2.7 2.7zM448.3 72.3l2.7 -2.7 2.7 2.7 -2.7 2.7zM448.2 72.8l2.7 -2.7 2.7 2.7 -2.7 2.7zM448.0 73.3l2.7 -2.7 2.7 2.7 -2.7 2.7zM447.9 73.8l2.7 -2.7 2.7 2.7 -2.7 2.7zM447.8 74.3l2.7 -2.7 2.7 2.7 -2.7 2.7zM447.6 74.9l2.7 -2.7 2.7 2.7 -2.7 2.7zM447.5 75.4l2.7 -2.7 2.7 2.7 -2.7 2.7zM447.3 75.9l2.7 -2.7 2.7 2.7 -2.7 2.7zM447.2 76.4l2.7 -2.7 2.7 2.7 -2.7 2.7zM447.0 77.0l2.7 -2.7 2.7 2.7 -2.7 2.7zM446.9 77.6l2.7 -2.7 2.7 2.7 -2.7 2.7zM446.7 78.1l2.7 -2.7 2.7 2.7 -2.7 2.7zM446.6 78.7l2.7 -2.7 2.7 2.7 -2.7 2.7zM446.4 79.3l2.7 -2.7 2.7 2.7 -2.7 2.7zM446.3 79.9l2.7 -2.7 2.7 2.7 -2.7 2.7zM446.1 80.3l2.7 -2.7 2.7 2.7 -2.7 2.7zM446.0 80.8l2.7 -2.7 2.7 2.7 -2.7 2.7zM445.9 81.2l2.7 -2.7 2.7 2.7 -2.7 2.7zM445.8 81.7l2.7 -2.7 2.7 2.7 -2.7 2.7zM445.6 82.2l2.7 -2.7 2.7 2.7 -2.7 2.7zM445.5 82.7l2.7 -2.7 2.7 2.7 -2.7 2.7zM445.4 83.2l2.7 -2.7 2.7 2.7 -2.7 2.7zM445.2 83.7l2.7 -2.7 2.7 2.7 -2.7 2.7zM445.1 84.2l2.7 -2.7 2.7 2.7 -2.7 2.7zM444.9 84.7l2.7 -2.7 2.7 2.7 -2.7 2.7zM444.8 85.2l2.7 -2.7 2.7 2.7 -2.7 2.7zM444.7 85.7l2.7 -2.7 2.7 2.7 -2.7 2.7zM444.5 86.3l2.7 -2.7 2.7 2.7 -2.7 2.7zM444.4 86.8l2.7 -2.7 2.7 2.7 -2.7 2.7zM444.2 87.4l2.7 -2.7 2.7 2.7 -2.7 2.7zM444.1 87.9l2.7 -2.7 2.7 2.7 -2.7 2.7zM443.9 88.5l2.7 -2.7 2.7 2.7 -2.7 2.7zM443.8 89.1l2.7 -2.7 2.7 2.7 -2.7 2.7zM443.6 89.7l2.7 -2.7 2.7 2.7 -2.7 2.7zM443.4 90.2l2.7 -2.7 2.7 2.7 -2.7 2.7zM443.3 90.9l2.7 -2.7 2.7 2.7 -2.7 2.7zM443.1 91.5l2.7 -2.7 2.7 2.7 -2.7 2.7zM442.9 92.1l2.7 -2.7 2.7 2.7 -2.7 2.7zM442.7 92.7l2.7 -2.7 2.7 2.7 -2.7 2.7zM442.6 93.4l2.7 -2.7 2.7 2.7 -2.7 2.7zM442.4 94.1l2.7 -2.7 2.7 2.7 -2.7 2.7zM442.3 94.5l2.7 -2.7 2.7 2.7 -2.7 2.7zM442.1 95.0l2.7 -2.7 2.7 2.7 -2.7 2.7zM442.0 95.4l2.7 -2.7 2.7 2.7 -2.7 2.7zM441.9 95.9l2.7 -2.7 2.7 2.7 -2.7 2.7zM441.8 96.4l2.7 -2.7 2.7 2.7 -2.7 2.7zM441.6 96.9l2.7 -2.7 2.7 2.7 -2.7 2.7zM441.5 97.3l2.7 -2.7 2.7 2.7 -2.7 2.7zM441.4 97.8l2.7 -2.7 2.7 2.7 -2.7 2.7zM441.2 98.3l2.7 -2.7 2.7 2.7 -2.7 2.7zM441.1 98.8l2.7 -2.7 2.7 2.7 -2.7 2.7zM440.9 99.4l2.7 -2.7 2.7 2.7 -2.7 2.7zM440.8 99.9l2.7 -2.7 2.7 2.7 -2.7 2.7zM440.7 100.4l2.7 -2.7 2.7 2.7 -2.7 2.7zM440.5 101.0l2.7 -2.7 2.7 2.7 -2.7 2.7zM440.3 101.5l2.7 -2.7 2.7 2.7 -2.7 2.7zM440.1 102.1l2.7 -2.7 2.7 2.7 -2.7 2.7zM439.9 102.6l2.7 -2.7 2.7 2.7 -2.7 2.7zM439.6 103.2l2.7 -2.7 2.7 2.7 -2.7 2.7zM439.4 103.8l2.7 -2.7 2.7 2.7 -2.7 2.7zM439.2 104.4l2.7 -2.7 2.7 2.7 -2.7 2.7zM438.9 105.0l2.7 -2.7 2.7 2.7 -2.7 2.7zM438.7 105.6l2.7 -2.7 2.7 2.7 -2.7 2.7zM438.5 106.2l2.7 -2.7 2.7 2.7 -2.7 2.7zM438.2 106.9l2.7 -2.7 2.7 2.7 -2.7 2.7zM437.9 107.5l2.7 -2.7 2.7 2.7 -2.7 2.7zM437.7 108.2l2.7 -2.7 2.7 2.7 -2.7 2.7zM437.4 108.9l2.7 -2.7 2.7 2.7 -2.7 2.7zM437.2 109.5l2.7 -2.7 2.7 2.7 -2.7 2.7zM436.9 110.2l2.7 -2.7 2.7 2.7 -2.7 2.7zM436.7 111.0l2.7 -2.7 2.7 2.7 -2.7 2.7zM436.6 111.7l2.7 -2.7 2.7 2.7 -2.7 2.7zM436.4 112.4l2.7 -2.7 2.7 2.7 -2.7 2.7zM436.3 113.2l2.7 -2.7 2.7 2.7 -2.7 2.7zM436.1 114.0l2.7 -2.7 2.7 2.7 -2.7 2.7zM435.9 114.8l2.7 -2.7 2.7 2.7 -2.7 2.7zM435.8 115.6l2.7 -2.7 2.7 2.7 -2.7 2.7zM435.6 116.4l2.7 -2.7 2.7 2.7 -2.7 2.7zM435.4 117.3l2.7 -2.7 2.7 2.7 -2.7 2.7zM435.4 118.1l2.55 -2.55 2.55 2.55 -2.55 2.55zM435.2 119.0l2.55 -2.55 2.55 2.55 -2.55 2.55zM435.1 119.5l2.55 -2.55 2.55 2.55 -2.55 2.55zM435.0 119.9l2.55 -2.55 2.55 2.55 -2.55 2.55zM434.9 120.4l2.55 -2.55 2.55 2.55 -2.55 2.55zM434.8 120.9l2.55 -2.55 2.55 2.55 -2.55 2.55zM434.6 121.4l2.55 -2.55 2.55 2.55 -2.55 2.55zM434.5 121.9l2.55 -2.55 2.55 2.55 -2.55 2.55zM434.4 122.4l2.55 -2.55 2.55 2.55 -2.55 2.55zM434.2 122.9l2.55 -2.55 2.55 2.55 -2.55 2.55zM434.1 123.4l2.55 -2.55 2.55 2.55 -2.55 2.55zM433.9 123.9l2.55 -2.55 2.55 2.55 -2.55 2.55zM433.8 124.4l2.55 -2.55 2.55 2.55 -2.55 2.55zM433.6 124.9l2.55 -2.55 2.55 2.55 -2.55 2.55zM433.5 125.5l2.55 -2.55 2.55 2.55 -2.55 2.55zM433.3 126.0l2.55 -2.55 2.55 2.55 -2.55 2.55zM433.2 126.6l2.55 -2.55 2.55 2.55 -2.55 2.55zM433.0 127.1l2.55 -2.55 2.55 2.55 -2.55 2.55zM432.8 127.7l2.55 -2.55 2.55 2.55 -2.55 2.55zM432.7 128.3l2.55 -2.55 2.55 2.55 -2.55 2.55zM432.5 128.9l2.55 -2.55 2.55 2.55 -2.55 2.55zM432.3 129.5l2.55 -2.55 2.55 2.55 -2.55 2.55zM432.2 130.1l2.55 -2.55 2.55 2.55 -2.55 2.55zM432.0 130.7l2.55 -2.55 2.55 2.55 -2.55 2.55zM431.8 131.4l2.55 -2.55 2.55 2.55 -2.55 2.55zM431.6 132.0l2.55 -2.55 2.55 2.55 -2.55 2.55zM431.4 132.7l2.55 -2.55 2.55 2.55 -2.55 2.55zM431.3 133.4l2.55 -2.55 2.55 2.55 -2.55 2.55zM431.1 134.1l2.55 -2.55 2.55 2.55 -2.55 2.55zM430.9 134.8l2.55 -2.55 2.55 2.55 -2.55 2.55zM430.8 135.5l2.55 -2.55 2.55 2.55 -2.55 2.55zM430.6 136.2l2.55 -2.55 2.55 2.55 -2.55 2.55zM430.4 136.9l2.55 -2.55 2.55 2.55 -2.55 2.55zM430.2 137.7l2.55 -2.55 2.55 2.55 -2.55 2.55zM430.1 138.5l2.55 -2.55 2.55 2.55 -2.55 2.55zM429.9 139.3l2.55 -2.55 2.55 2.55 -2.55 2.55zM429.7 140.1l2.55 -2.55 2.55 2.55 -2.55 2.55zM429.5 140.9l2.55 -2.55 2.55 2.55 -2.55 2.55zM429.3 141.8l2.55 -2.55 2.55 2.55 -2.55 2.55zM429.1 142.6l2.55 -2.55 2.55 2.55 -2.55 2.55zM428.8 143.5l2.55 -2.55 2.55 2.55 -2.55 2.55zM428.6 144.5l2.55 -2.55 2.55 2.55 -2.55 2.55zM428.3 145.4l2.55 -2.55 2.55 2.55 -2.55 2.55zM428.0 146.4l2.55 -2.55 2.55 2.55 -2.55 2.55zM427.8 147.4l2.55 -2.55 2.55 2.55 -2.55 2.55zM427.5 148.4l2.55 -2.55 2.55 2.55 -2.55 2.55zM427.2 149.4l2.55 -2.55 2.55 2.55 -2.55 2.55zM426.8 150.5l2.55 -2.55 2.55 2.55 -2.55 2.55zM426.2 151.7l2.55 -2.55 2.55 2.55 -2.55 2.55zM425.7 152.8l2.55 -2.55 2.55 2.55 -2.55 2.55zM425.1 154.0l2.55 -2.55 2.55 2.55 -2.55 2.55zM424.5 155.3l2.55 -2.55 2.55 2.55 -2.55 2.55zM424.0 156.5l2.55 -2.55 2.55 2.55 -2.55 2.55zM423.4 157.9l2.55 -2.55 2.55 2.55 -2.55 2.55zM422.9 159.3l2.55 -2.55 2.55 2.55 -2.55 2.55zM422.4 160.7l2.55 -2.55 2.55 2.55 -2.55 2.55zM422.3 162.2l2.55 -2.55 2.55 2.55 -2.55 2.55zM422.2 163.8l2.55 -2.55 2.55 2.55 -2.55 2.55zM422.1 165.4l2.55 -2.55 2.55 2.55 -2.55 2.55zM422.0 167.2l2.55 -2.55 2.55 2.55 -2.55 2.55zM421.4 169.0l2.55 -2.55 2.55 2.55 -2.55 2.55zM420.8 170.9l2.55 -2.55 2.55 2.55 -2.55 2.55zM419.4 172.9l2.55 -2.55 2.55 2.55 -2.55 2.55zM417.6 175.0l2.55 -2.55 2.55 2.55 -2.55 2.55zM417.0 177.3l2.55 -2.55 2.55 2.55 -2.55 2.55zM416.3 179.8l2.55 -2.55 2.55 2.55 -2.55 2.55zM416.0 182.4l2.55 -2.55 2.55 2.55 -2.55 2.55zM415.7 185.2l2.55 -2.55 2.55 2.55 -2.55 2.55zM415.6 188.3l2.55 -2.55 2.55 2.55 -2.55 2.55zM415.9 191.5l2.3 -2.3 2.3 2.3 -2.3 2.3zM415.7 195.5l2.3 -2.3 2.3 2.3 -2.3 2.3zM409.2 199.3l2.3 -2.3 2.3 2.3 -2.3 2.3zM407.6 204.0l2.3 -2.3 2.3 2.3 -2.3 2.3zM405.2 209.6l2.3 -2.3 2.3 2.3 -2.3 2.3zM402.3 216.0l2.3 -2.3 2.3 2.3 -2.3 2.3zM391.1 224.1l2.3 -2.3 2.3 2.3 -2.3 2.3zM384.5 234.2l2.3 -2.3 2.3 2.3 -2.3 2.3zM373.2 248.4l2.3 -2.3 2.3 2.3 -2.3 2.3zM366.2 273.1l2.3 -2.3 2.3 2.3 -2.3 2.3z"/>
<text transform="translate(4.7,18.0) scale(1.0,1)" font-size="26.3" font-weight="bold" text-anchor="start" stroke="#000" stroke-width="0.2">A</text>
<text transform="translate(266.5,18.8) scale(0.95,1)" font-size="25.8" font-weight="bold" text-anchor="start" stroke="#000" stroke-width="0.1">B</text>
<g transform="translate(224.4,33.2) scale(0.94,1)" stroke="#000" stroke-width="0.3"><path transform="translate(0.00,0) scale(9.0)" d="M.393 0L.256 0L.256 -.517Q.181 -.447 .0786 -.413L.0786 -.538Q.132 -.555 .195 -.604Q.258 -.653 .282 -.719L.393 -.719Z" stroke-width="0.0333"/><text x="5.00" y="0" font-size="9.0" font-weight="bold">0</text><text x="10.01" y="0" font-size="9.0" font-weight="bold">0</text><text x="15.01" y="0" font-size="9.0" font-weight="bold">0</text></g>
<g transform="translate(224.8,114.8) scale(0.9,1)" stroke="#000" stroke-width="0.3"><path transform="translate(0.00,0) scale(9.2)" d="M.393 0L.256 0L.256 -.517Q.181 -.447 .0786 -.413L.0786 -.538Q.132 -.555 .195 -.604Q.258 -.653 .282 -.719L.393 -.719Z" stroke-width="0.0326"/><text x="5.12" y="0" font-size="9.2" font-weight="bold">0</text><text x="10.23" y="0" font-size="9.2" font-weight="bold">0</text></g>
<text transform="translate(225.6,137.2) scale(0.97,1)" font-size="9.2" font-weight="bold" text-anchor="start" stroke="#000" stroke-width="0.3">89</text>
<g transform="translate(224.8,196.0) scale(0.93,1)" stroke="#000" stroke-width="0.3"><path transform="translate(0.00,0) scale(9.2)" d="M.393 0L.256 0L.256 -.517Q.181 -.447 .0786 -.413L.0786 -.538Q.132 -.555 .195 -.604Q.258 -.653 .282 -.719L.393 -.719Z" stroke-width="0.0326"/><text x="5.12" y="0" font-size="9.2" font-weight="bold">0</text></g>
<g transform="translate(225.5,277.3) scale(0.95,1)" stroke="#000" stroke-width="0.3"><path transform="translate(0.00,0) scale(9.0)" d="M.393 0L.256 0L.256 -.517Q.181 -.447 .0786 -.413L.0786 -.538Q.132 -.555 .195 -.604Q.258 -.653 .282 -.719L.393 -.719Z" stroke-width="0.0333"/></g>
<g transform="translate(5.5,285.8) scale(1.0,1)" stroke="#000" stroke-width="0.3"><path transform="translate(-6.19,0) scale(8.9)" d="M.393 0L.256 0L.256 -.517Q.181 -.447 .0786 -.413L.0786 -.538Q.132 -.555 .195 -.604Q.258 -.653 .282 -.719L.393 -.719Z" stroke-width="0.0337"/><text x="-1.24" y="0" font-size="8.9" font-weight="bold">.</text><text x="1.24" y="0" font-size="8.9" font-weight="bold">5</text></g>
<g transform="translate(76.4,285.8) scale(1.0,1)" stroke="#000" stroke-width="0.3"><path transform="translate(-2.47,0) scale(8.9)" d="M.393 0L.256 0L.256 -.517Q.181 -.447 .0786 -.413L.0786 -.538Q.132 -.555 .195 -.604Q.258 -.653 .282 -.719L.393 -.719Z" stroke-width="0.0337"/></g>
<text transform="translate(148.0,285.8) scale(1.0,1)" font-size="8.9" font-weight="bold" text-anchor="middle" stroke="#000" stroke-width="0.3">0.5</text>
<text transform="translate(217.6,284.4) scale(1.0,1)" font-size="10.8" font-weight="bold" text-anchor="middle" stroke="#000" stroke-width="0.3">0</text>
<text transform="translate(76,309.4) scale(1.0,1)" font-size="15.1" font-weight="normal" text-anchor="start" stroke="#000" stroke-width="0.3">Correlation</text>
<text transform="translate(261.1,223.9) rotate(-90)" font-size="15.1" stroke="#000" stroke-width="0.3">Number of probe sets</text>
<g transform="translate(484.9,33.4) scale(0.94,1)" stroke="#000" stroke-width="0.3"><path transform="translate(0.00,0) scale(9.0)" d="M.393 0L.256 0L.256 -.517Q.181 -.447 .0786 -.413L.0786 -.538Q.132 -.555 .195 -.604Q.258 -.653 .282 -.719L.393 -.719Z" stroke-width="0.0333"/><text x="5.00" y="0" font-size="9.0" font-weight="bold">0</text><text x="10.01" y="0" font-size="9.0" font-weight="bold">0</text><text x="15.01" y="0" font-size="9.0" font-weight="bold">0</text></g>
<g transform="translate(483.0,115.1) scale(0.96,1)" stroke="#000" stroke-width="0.3"><path transform="translate(0.00,0) scale(10.1)" d="M.393 0L.256 0L.256 -.517Q.181 -.447 .0786 -.413L.0786 -.538Q.132 -.555 .195 -.604Q.258 -.653 .282 -.719L.393 -.719Z" stroke-width="0.0297"/><text x="5.62" y="0" font-size="10.1" font-weight="bold">0</text><text x="11.23" y="0" font-size="10.1" font-weight="bold">0</text></g>
<g transform="translate(484.9,195.9) scale(0.93,1)" stroke="#000" stroke-width="0.3"><path transform="translate(0.00,0) scale(9.1)" d="M.393 0L.256 0L.256 -.517Q.181 -.447 .0786 -.413L.0786 -.538Q.132 -.555 .195 -.604Q.258 -.653 .282 -.719L.393 -.719Z" stroke-width="0.0330"/><text x="5.06" y="0" font-size="9.1" font-weight="bold">0</text></g>
<g transform="translate(485.3,277.9) scale(0.95,1)" stroke="#000" stroke-width="0.3"><path transform="translate(0.00,0) scale(9.0)" d="M.393 0L.256 0L.256 -.517Q.181 -.447 .0786 -.413L.0786 -.538Q.132 -.555 .195 -.604Q.258 -.653 .282 -.719L.393 -.719Z" stroke-width="0.0333"/></g>
<g transform="translate(270.5,286.0) scale(1.0,1)" stroke="#000" stroke-width="0.3"><path transform="translate(-6.19,0) scale(8.9)" d="M.393 0L.256 0L.256 -.517Q.181 -.447 .0786 -.413L.0786 -.538Q.132 -.555 .195 -.604Q.258 -.653 .282 -.719L.393 -.719Z" stroke-width="0.0337"/><text x="-1.24" y="0" font-size="8.9" font-weight="bold">.</text><text x="1.24" y="0" font-size="8.9" font-weight="bold">5</text></g>
<g transform="translate(339.8,286.0) scale(1.0,1)" stroke="#000" stroke-width="0.3"><path transform="translate(-2.47,0) scale(8.9)" d="M.393 0L.256 0L.256 -.517Q.181 -.447 .0786 -.413L.0786 -.538Q.132 -.555 .195 -.604Q.258 -.653 .282 -.719L.393 -.719Z" stroke-width="0.0337"/></g>
<text transform="translate(407.9,286.0) scale(1.0,1)" font-size="8.9" font-weight="bold" text-anchor="middle" stroke="#000" stroke-width="0.3">0.5</text>
<text transform="translate(477.2,286.3) scale(1.0,1)" font-size="9.4" font-weight="bold" text-anchor="middle" stroke="#000" stroke-width="0.3">0</text>
<text transform="translate(333.5,308.9) scale(1.0,1)" font-size="15.1" font-weight="normal" text-anchor="start" stroke="#000" stroke-width="0.3">Correlation</text>
<text transform="translate(516.2,223.9) rotate(-90)" font-size="15.1" stroke="#000" stroke-width="0.3">Number of probe sets</text>
</svg>
</body></html>
